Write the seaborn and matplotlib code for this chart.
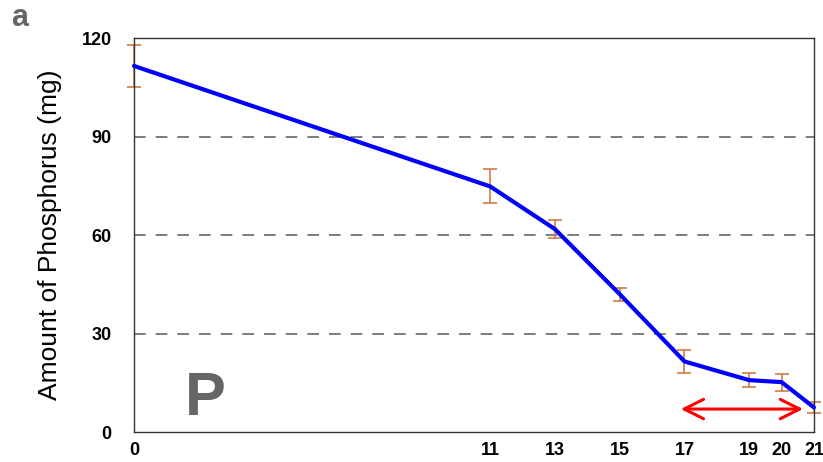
import matplotlib
matplotlib.use("Agg")
import matplotlib.pyplot as plt
import seaborn as sns
import pandas as pd

days = [0, 11, 13, 15, 17, 19, 20, 21]
phosphorus = [111.5, 74.8, 61.8, 42.0, 21.5, 15.8, 15.2, 7.5]
errors = [6.3, 5.2, 2.8, 2.0, 3.6, 2.1, 2.6, 1.7]
yticks = [0, 30, 60, 90, 120]

df = pd.DataFrame({"day": days, "P": phosphorus, "err": errors})

sns.set_theme(style="white")
plt.rcParams['font.family'] = ['Liberation Sans', 'DejaVu Sans']

fig = plt.figure(figsize=(8.23, 4.62), dpi=100)
ax = fig.add_axes([0.1628, 0.0649, 0.8262, 0.8528])

for yv in [30, 60, 90]:
    ax.axhline(yv, color="#666666", linestyle=(0, (7, 6)), linewidth=1.2, zorder=0)

ax.errorbar(df["day"], df["P"], yerr=df["err"], fmt="none", ecolor="#cd7a45",
            elinewidth=1.2, capsize=5, capthick=1.2, zorder=2, clip_on=False)
sns.lineplot(data=df, x="day", y="P", color="#0000ff", linewidth=3.0, ax=ax,
             zorder=3, clip_on=False)

ax.set_xlim(0, 21)
ax.set_ylim(0, 120)
ax.set_xticks(days)
ax.set_xticklabels([str(d) for d in days], fontweight="bold", fontsize=13, color="black")
ax.set_yticks(yticks)
ax.set_yticklabels([str(v) for v in yticks], fontweight="bold", fontsize=13, color="black")
ax.tick_params(axis="x", direction="in", length=5, width=1, color="#333333", pad=7)
ax.tick_params(axis="y", length=0, pad=16)
ax.set_xlabel("")
ax.set_ylabel("Amount of Phosphorus (mg)", fontsize=19, labelpad=14, color="black")
for s in ax.spines.values():
    s.set_color("#333333")
    s.set_linewidth(1.0)

ax.annotate("", xy=(16.8, 7.0), xytext=(20.75, 7.0),
            arrowprops=dict(arrowstyle="<->,head_length=0.7,head_width=0.35",
                            color="#ff0000", lw=2.2, mutation_scale=20))
ax.text(2.2, 9.9, "P", fontsize=44, fontweight="bold", color="#666666",
        ha="center", va="center")
fig.text(0.014, 0.962, "a", fontsize=22, fontweight="bold", color="#666666",
         ha="left", va="center")

fig.savefig("out.png", dpi=100)
